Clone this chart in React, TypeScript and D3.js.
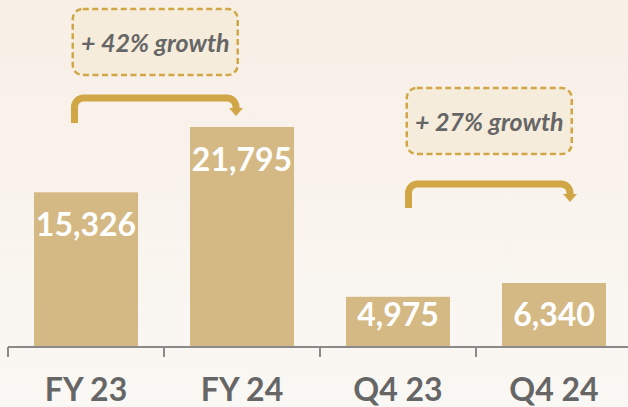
import * as d3 from "d3";
import { useEffect, useRef } from "react";

const categories = ["FY 23", "FY 24", "Q4 23", "Q4 24"];
const values = [15326, 21795, 4975, 6340];
const growthLabels = ["+ 42% growth", "+ 27% growth"];
const growthPairs: [string, string][] = [
  ["FY 23", "FY 24"],
  ["Q4 23", "Q4 24"],
];

const W = 628;
const H = 407;
const GOLD = "#d1a646";
const BAR = "#d5b985";
const GREY = "#666666";
const FONT = "Lato, 'Open Sans', sans-serif";

export default function App() {
  const ref = useRef<SVGSVGElement>(null);

  useEffect(() => {
    const svg = d3.select(ref.current);
    svg.selectAll("*").remove();

    const margin = { left: 8, right: 0 };
    const axisY = 347;

    const x = d3
      .scaleBand()
      .domain(categories)
      .range([margin.left, margin.left + 156 * 4])
      .paddingInner(0)
      .paddingOuter(0);
    const barW = x.bandwidth() * (104 / 156);

    const y = d3.scaleLinear().domain([0, 21795]).range([axisY, 127]);

    // background
    const defs = svg.append("defs");
    const grad = defs
      .append("linearGradient")
      .attr("id", "bg")
      .attr("x1", 0)
      .attr("y1", 0)
      .attr("x2", 0)
      .attr("y2", 1);
    grad.append("stop").attr("offset", "0%").attr("stop-color", "#f8efe6");
    grad.append("stop").attr("offset", "100%").attr("stop-color", "#faf8f4");
    svg
      .append("rect")
      .attr("width", W)
      .attr("height", H)
      .attr("fill", "url(#bg)");

    const data = categories.map((c, i) => ({ label: c, value: values[i] }));

    // bars
    svg
      .selectAll("rect.bar")
      .data(data)
      .enter()
      .append("rect")
      .attr("class", "bar")
      .attr("x", (d) => x(d.label)! + (x.bandwidth() - barW) / 2)
      .attr("y", (d) => y(d.value))
      .attr("width", barW)
      .attr("height", (d) => axisY - y(d.value))
      .attr("fill", BAR);

    // value labels
    svg
      .selectAll("text.val")
      .data(data)
      .enter()
      .append("text")
      .attr("class", "val")
      .attr("x", (d) => x(d.label)! + x.bandwidth() / 2)
      .attr("y", (d) => Math.min(y(d.value) + 44, axisY - 21))
      .attr("text-anchor", "middle")
      .attr("font-family", FONT)
      .attr("font-weight", 700)
      .attr("font-size", "32px")
      .attr("fill", "#ffffff")
      .text((d) => d3.format(",")(d.value));

    // axis
    const axis = svg.append("g");
    axis
      .append("line")
      .attr("x1", margin.left)
      .attr("x2", W)
      .attr("y1", axisY)
      .attr("y2", axisY)
      .attr("stroke", "#8a8a8a")
      .attr("stroke-width", 2);
    axis
      .selectAll("line.tick")
      .data(categories)
      .enter()
      .append("line")
      .attr("class", "tick")
      .attr("x1", (d) => x(d)!)
      .attr("x2", (d) => x(d)!)
      .attr("y1", axisY)
      .attr("y2", axisY + 10)
      .attr("stroke", "#8a8a8a")
      .attr("stroke-width", 2);
    axis
      .selectAll("text")
      .data(categories)
      .enter()
      .append("text")
      .attr("x", (d) => x(d)! + x.bandwidth() / 2)
      .attr("y", 401)
      .attr("text-anchor", "middle")
      .attr("font-family", FONT)
      .attr("font-weight", 700)
      .attr("font-size", "32px")
      .attr("fill", GREY)
      .text((d) => d);

    // growth callouts
    const callouts = [
      { pair: growthPairs[0], text: growthLabels[0], boxTop: 9, arrowTop: 98, arrowBottom: 123, startOff: 66.5, endOff: 72 },
      { pair: growthPairs[1], text: growthLabels[1], boxTop: 88, arrowTop: 184, arrowBottom: 208, startOff: 88.5, endOff: 94 },
    ];

    callouts.forEach((c) => {
      const x0 = x(c.pair[0])! + c.startOff;
      const x1 = x(c.pair[1])! + c.endOff;
      const r = 9;
      const tipY = c.arrowTop + 18;
      const path = d3.path();
      path.moveTo(x0, c.arrowBottom);
      path.lineTo(x0, c.arrowTop + r);
      path.arcTo(x0, c.arrowTop, x0 + r, c.arrowTop, r);
      path.lineTo(x1 - r, c.arrowTop);
      path.arcTo(x1, c.arrowTop, x1, c.arrowTop + r, r);
      path.lineTo(x1, tipY - 7);
      svg
        .append("path")
        .attr("d", path.toString())
        .attr("fill", "none")
        .attr("stroke", GOLD)
        .attr("stroke-width", 7);
      svg
        .append("path")
        .attr(
          "d",
          `M${x1 - 7},${tipY - 8}L${x1 + 7},${tipY - 8}L${x1},${tipY}Z`
        )
        .attr("fill", GOLD);

      const bw = 165;
      const bh = 66;
      const cx = (x0 + x1) / 2;
      svg
        .append("rect")
        .attr("x", cx - bw / 2)
        .attr("y", c.boxTop)
        .attr("width", bw)
        .attr("height", bh)
        .attr("rx", 10)
        .attr("fill", "#f5ecdb")
        .attr("stroke", GOLD)
        .attr("stroke-width", 2.5)
        .attr("stroke-dasharray", "6 3.5");
      svg
        .append("text")
        .attr("x", cx)
        .attr("y", c.boxTop + 43)
        .attr("text-anchor", "middle")
        .attr("font-family", FONT)
        .attr("font-weight", 700)
        .attr("font-style", "italic")
        .attr("font-size", "25px")
        .attr("fill", GREY)
        .text(c.text);
    });
  }, []);

  return (
    <svg
      ref={ref}
      width={W}
      height={H}
      style={{ position: "absolute", left: 0, top: 0, display: "block" }}
    />
  );
}
